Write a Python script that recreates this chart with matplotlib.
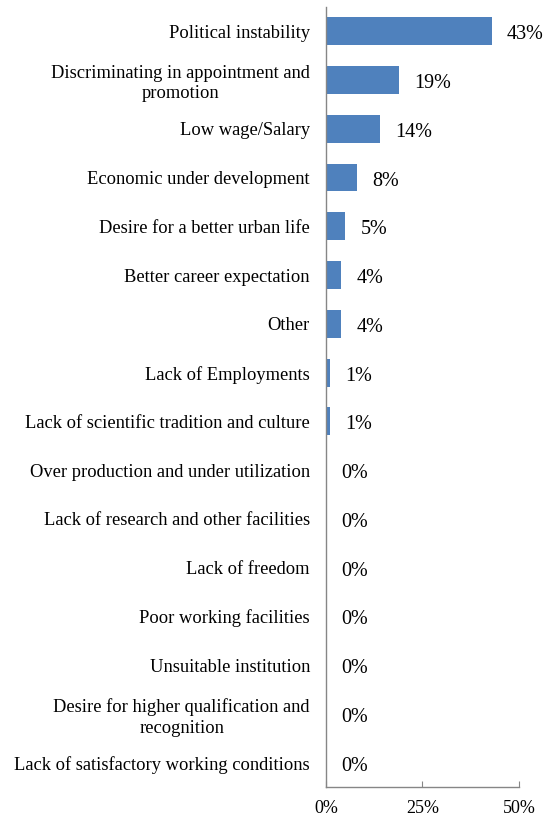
import matplotlib
matplotlib.use("Agg")
import matplotlib.pyplot as plt

plt.rcParams['font.family'] = ['Liberation Serif', 'DejaVu Serif']

categories = [
    "Political instability",
    "Discriminating in appointment and\npromotion",
    "Low wage/Salary",
    "Economic under development",
    "Desire for a better urban life",
    "Better career expectation",
    "Other",
    "Lack of Employments",
    "Lack of scientific tradition and culture",
    "Over production and under utilization",
    "Lack of research and other facilities",
    "Lack of freedom",
    "Poor working facilities",
    "Unsuitable institution",
    "Desire for higher qualification and\nrecognition",
    "Lack of satisfactory working conditions",
]
values = [0.43, 0.19, 0.14, 0.08, 0.05, 0.04, 0.04, 0.01, 0.01, 0, 0, 0, 0, 0, 0, 0]
value_labels = ["43%", "19%", "14%", "8%", "5%", "4%", "4%", "1%", "1%",
                "0%", "0%", "0%", "0%", "0%", "0%", "0%"]
xticks = [0, 0.25, 0.5]
xtick_labels = ["0%", "25%", "50%"]

fig = plt.figure(figsize=(5.45, 8.16), dpi=100)
ax = fig.add_axes([0.598, 0.0355, 0.354, 0.956])

n = len(categories)
ypos = list(range(n))
ax.barh(ypos, values, height=0.57, color="#4F81BD")
ax.set_ylim(n - 0.5, -0.5)
ax.set_xlim(0, 0.5)

for y, v, lab in zip(ypos, values, value_labels):
    ax.annotate(lab, xy=(v, y), xytext=(11, -2.5), textcoords="offset points",
                va="center", ha="left", fontsize=14.5, color="#000000")

ax.set_yticks(ypos)
ax.set_yticklabels(categories, fontsize=13.3)
plt.setp(ax.get_yticklabels(), multialignment="center", linespacing=1.25)
ax.tick_params(axis="y", length=0, pad=11.5)

ax.set_xticks(xticks)
ax.set_xticklabels(xtick_labels, fontsize=13)
ax.tick_params(axis="x", direction="in", length=4, color="#868686", pad=9)

for side in ["top", "right"]:
    ax.spines[side].set_visible(False)
for side in ["left", "bottom"]:
    ax.spines[side].set_color("#868686")
    ax.spines[side].set_linewidth(1.0)

fig.savefig("out.png", dpi=100)
